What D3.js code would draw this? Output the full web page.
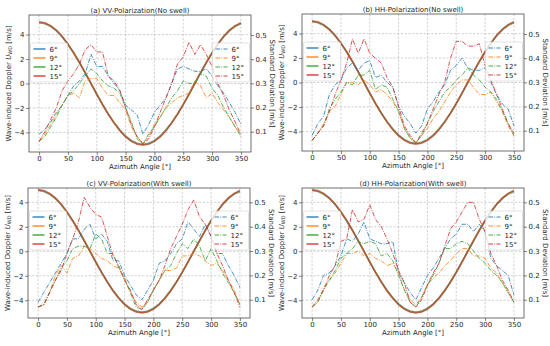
<!DOCTYPE html>
<html><head><meta charset="utf-8">
<script src="https://cdn.jsdelivr.net/npm/d3@7/dist/d3.min.js"></script>
<style>body{margin:0;background:#fff}svg{display:block;font-family:"DejaVu Sans",sans-serif}</style>
</head><body><svg id="c" width="550" height="346"></svg>
<script>
// ---------- data ----------
const azimuth = [0,10,20,30,40,50,60,70,80,90,100,110,120,130,140,150,160,170,180,190,200,210,220,230,240,250,260,270,280,290,300,310,320,330,340,350];
const incidence = ["6°","9°","12°","15°"];
const xTicks = [0,50,100,150,200,250,300,350];
const yTicks = [-4,-2,0,2,4];
const sTicks = [0.1,0.2,0.3,0.4,0.5];

// wave-induced Doppler (left axis)
const dop6  = [4.96,4.88,4.66,4.30,3.80,3.18,2.47,1.69,0.85,-0.01,-0.87,-1.70,-2.48,-3.18,-3.79,-4.29,-4.66,-4.88,-4.96,-4.88,-4.66,-4.29,-3.79,-3.18,-2.48,-1.70,-0.87,-0.01,0.85,1.69,2.47,3.18,3.80,4.30,4.66,4.88];
const dop9  = [4.99,4.91,4.69,4.32,3.82,3.20,2.49,1.70,0.86,0.00,-0.87,-1.71,-2.50,-3.21,-3.82,-4.32,-4.69,-4.91,-4.99,-4.91,-4.69,-4.32,-3.82,-3.21,-2.50,-1.71,-0.87,0.00,0.86,1.70,2.49,3.20,3.82,4.32,4.69,4.91];
const dop12 = [5.01,4.93,4.71,4.34,3.84,3.22,2.51,1.72,0.87,0.01,-0.87,-1.72,-2.51,-3.22,-3.84,-4.34,-4.71,-4.93,-5.01,-4.93,-4.71,-4.34,-3.84,-3.22,-2.51,-1.72,-0.87,0.01,0.87,1.72,2.51,3.22,3.84,4.34,4.71,4.93];
const dop15 = [5.04,4.96,4.73,4.36,3.86,3.24,2.52,1.73,0.88,0.01,-0.88,-1.73,-2.52,-3.24,-3.86,-4.36,-4.73,-4.96,-5.04,-4.96,-4.73,-4.36,-3.86,-3.24,-2.52,-1.73,-0.88,0.01,0.88,1.73,2.52,3.24,3.86,4.36,4.73,4.96];

// standard deviation (right axis)
const stdA6  = [0.09,0.11,0.14,0.18,0.21,0.25,0.29,0.31,0.34,0.42,0.37,0.37,0.33,0.30,0.27,0.21,0.19,0.17,0.09,0.13,0.18,0.21,0.24,0.30,0.36,0.37,0.36,0.35,0.35,0.36,0.33,0.29,0.26,0.22,0.18,0.13];
const stdA9  = [0.06,0.09,0.13,0.17,0.21,0.25,0.26,0.24,0.31,0.32,0.32,0.28,0.25,0.25,0.22,0.19,0.12,0.08,0.05,0.08,0.13,0.16,0.20,0.22,0.24,0.25,0.26,0.31,0.29,0.24,0.26,0.22,0.19,0.16,0.12,0.09];
const stdA12 = [0.06,0.08,0.12,0.16,0.21,0.25,0.27,0.30,0.33,0.36,0.34,0.31,0.29,0.28,0.26,0.20,0.14,0.07,0.05,0.09,0.12,0.16,0.20,0.24,0.27,0.31,0.30,0.30,0.34,0.33,0.28,0.25,0.20,0.16,0.12,0.08];
const stdA15 = [0.06,0.10,0.15,0.20,0.27,0.31,0.34,0.38,0.44,0.46,0.43,0.43,0.33,0.31,0.27,0.20,0.13,0.08,0.05,0.07,0.12,0.18,0.24,0.30,0.38,0.41,0.47,0.42,0.46,0.42,0.37,0.30,0.25,0.19,0.14,0.09];

const stdB6  = [0.08,0.13,0.16,0.25,0.29,0.31,0.36,0.38,0.35,0.38,0.39,0.32,0.33,0.30,0.28,0.20,0.16,0.13,0.09,0.12,0.19,0.22,0.26,0.29,0.35,0.37,0.40,0.36,0.35,0.35,0.36,0.30,0.25,0.21,0.19,0.12];
const stdB9  = [0.06,0.09,0.13,0.18,0.20,0.25,0.30,0.30,0.29,0.31,0.29,0.26,0.27,0.25,0.22,0.18,0.11,0.07,0.05,0.08,0.11,0.15,0.18,0.22,0.26,0.29,0.31,0.31,0.28,0.25,0.25,0.26,0.22,0.18,0.12,0.08];
const stdB12 = [0.06,0.09,0.12,0.19,0.23,0.26,0.30,0.29,0.33,0.33,0.35,0.27,0.29,0.28,0.23,0.18,0.11,0.07,0.05,0.08,0.13,0.18,0.22,0.26,0.28,0.31,0.33,0.36,0.33,0.31,0.28,0.26,0.23,0.18,0.13,0.08];
const stdB15 = [0.06,0.09,0.12,0.18,0.25,0.31,0.38,0.48,0.42,0.48,0.42,0.40,0.38,0.32,0.28,0.20,0.12,0.08,0.05,0.09,0.13,0.19,0.25,0.30,0.40,0.47,0.47,0.45,0.45,0.46,0.37,0.31,0.25,0.19,0.13,0.09];

const stdC6  = [0.09,0.13,0.17,0.21,0.25,0.29,0.35,0.35,0.39,0.41,0.35,0.37,0.34,0.26,0.26,0.20,0.16,0.12,0.10,0.14,0.18,0.25,0.26,0.29,0.33,0.35,0.42,0.39,0.36,0.41,0.36,0.29,0.29,0.24,0.20,0.15];
const stdC9  = [0.07,0.08,0.13,0.20,0.24,0.21,0.27,0.28,0.32,0.31,0.29,0.27,0.26,0.24,0.23,0.18,0.13,0.09,0.07,0.09,0.14,0.18,0.22,0.22,0.23,0.28,0.28,0.29,0.28,0.26,0.24,0.25,0.22,0.18,0.14,0.08];
const stdC12 = [0.07,0.08,0.13,0.18,0.23,0.26,0.31,0.32,0.32,0.31,0.37,0.35,0.29,0.29,0.23,0.19,0.13,0.07,0.06,0.09,0.14,0.18,0.22,0.24,0.29,0.33,0.31,0.35,0.32,0.26,0.31,0.26,0.21,0.17,0.13,0.08];
const stdC15 = [0.07,0.08,0.13,0.18,0.22,0.29,0.35,0.42,0.52,0.48,0.45,0.44,0.36,0.28,0.24,0.18,0.14,0.08,0.06,0.10,0.14,0.18,0.24,0.31,0.36,0.41,0.47,0.51,0.44,0.41,0.36,0.29,0.24,0.18,0.13,0.07];

const stdD6  = [0.10,0.14,0.20,0.21,0.24,0.28,0.35,0.34,0.37,0.42,0.35,0.34,0.33,0.33,0.34,0.21,0.17,0.13,0.10,0.15,0.20,0.23,0.27,0.31,0.35,0.37,0.41,0.41,0.38,0.41,0.38,0.27,0.24,0.22,0.20,0.12];
const stdD9  = [0.07,0.09,0.15,0.18,0.21,0.25,0.29,0.29,0.30,0.28,0.29,0.27,0.26,0.24,0.25,0.21,0.14,0.10,0.08,0.11,0.16,0.19,0.21,0.24,0.26,0.29,0.31,0.31,0.28,0.28,0.27,0.23,0.21,0.17,0.13,0.09];
const stdD12 = [0.07,0.09,0.14,0.18,0.22,0.27,0.29,0.31,0.34,0.33,0.34,0.33,0.28,0.29,0.26,0.20,0.14,0.09,0.07,0.11,0.16,0.20,0.25,0.31,0.31,0.33,0.34,0.33,0.30,0.27,0.25,0.22,0.20,0.17,0.13,0.09];
const stdD15 = [0.07,0.10,0.14,0.20,0.24,0.34,0.35,0.47,0.42,0.43,0.49,0.43,0.40,0.35,0.29,0.22,0.17,0.09,0.07,0.10,0.16,0.21,0.25,0.32,0.39,0.42,0.46,0.50,0.50,0.43,0.38,0.29,0.24,0.18,0.14,0.09];

// ---------- drawing ----------
const svg = d3.select("#c");
const colors = ["#1f77b4","#ff7f0e","#2ca02c","#d62728"];
const dops = [dop6,dop9,dop12,dop15];

const panels = [
  {title:"(a) VV-Polarization(No swell)", x0:29,  x1:251, y0:15,  y1:152, yDom:[-5.6,5.6], sDom:[0.016,0.583], leg:34, std:[stdA6,stdA9,stdA12,stdA15]},
  {title:"(b) HH-Polarization(No swell)", x0:302, x1:524, y0:14,  y1:151, yDom:[-5.6,5.6], sDom:[0.016,0.583], leg:34, std:[stdB6,stdB9,stdB12,stdB15]},
  {title:"(c) VV-Polarization(With swell)", x0:28, x1:250, y0:188, y1:318, yDom:[-5.45,5.17], sDom:[0.025,0.559], leg:29, std:[stdC6,stdC9,stdC12,stdC15]},
  {title:"(d) HH-Polarization(With swell)", x0:302, x1:524, y0:188, y1:318, yDom:[-5.45,5.17], sDom:[0.025,0.559], leg:29, std:[stdD6,stdD9,stdD12,stdD15]}
];

const FS = 7;
const textCol = "#262626";

panels.forEach(p => {
  const g = svg.append("g");
  const x = d3.scaleLinear().domain([-17.5, 367.5]).range([p.x0, p.x1]);
  const y = d3.scaleLinear().domain(p.yDom).range([p.y1, p.y0]);
  const s = d3.scaleLinear().domain(p.sDom).range([p.y1, p.y0]);

  // grid
  const grid = g.append("g").attr("stroke", "#b0b0b0").attr("stroke-width", 0.6).attr("stroke-dasharray", "2.2,1.6");
  xTicks.forEach(t => grid.append("line").attr("x1", x(t)).attr("x2", x(t)).attr("y1", p.y0).attr("y2", p.y1));
  yTicks.forEach(t => grid.append("line").attr("x1", p.x0).attr("x2", p.x1).attr("y1", y(t)).attr("y2", y(t)));

  const clipId = "clip" + p.x0 + "_" + p.y0;
  svg.append("clipPath").attr("id", clipId).append("rect")
    .attr("x", p.x0).attr("y", p.y0).attr("width", p.x1 - p.x0).attr("height", p.y1 - p.y0);
  const plot = g.append("g").attr("clip-path", `url(#${clipId})`);

  // Doppler lines (left axis)
  const lineY = d3.line().x((d, i) => x(azimuth[i])).y(d => y(d)).curve(d3.curveLinear);
  dops.forEach((arr, k) => {
    plot.append("path").attr("d", lineY(arr)).attr("fill", "none")
      .attr("stroke", colors[k]).attr("stroke-width", 1.6).attr("stroke-opacity", 0.55);
  });

  // Std lines (right axis)
  const lineS = d3.line().x((d, i) => x(azimuth[i])).y(d => s(d));
  p.std.forEach((arr, k) => {
    plot.append("path").attr("d", lineS(arr)).attr("fill", "none")
      .attr("stroke", colors[k]).attr("stroke-width", 0.9).attr("stroke-opacity", 0.9)
      .attr("stroke-dasharray", "4.5,1.3,0.9,1.3");
  });

  // axes
  const ax = g.append("g").attr("transform", `translate(0,${p.y1})`)
    .call(d3.axisBottom(x).tickValues(xTicks).tickSize(3).tickPadding(1.5).tickFormat(d3.format("d")));
  const ay = g.append("g").attr("transform", `translate(${p.x0},0)`)
    .call(d3.axisLeft(y).tickValues(yTicks).tickSize(3).tickPadding(1.5).tickFormat(d => d < 0 ? "\u2212" + Math.abs(d) : d));
  const as = g.append("g").attr("transform", `translate(${p.x1},0)`)
    .call(d3.axisRight(s).tickValues(sTicks).tickSize(3).tickPadding(1.5).tickFormat(d3.format(".1f")));
  [ax, ay, as].forEach(a => {
    a.select(".domain").remove();
    a.selectAll(".tick line").attr("stroke", "#333").attr("stroke-width", 0.6);
    a.selectAll(".tick text").attr("font-size", FS).attr("fill", textCol).attr("font-family", "DejaVu Sans");
  });

  // frame
  g.append("rect").attr("x", p.x0).attr("y", p.y0).attr("width", p.x1 - p.x0).attr("height", p.y1 - p.y0)
    .attr("fill", "none").attr("stroke", "#333").attr("stroke-width", 0.7);

  // title
  g.append("text").attr("x", (p.x0 + p.x1) / 2).attr("y", p.y0 - 2.5).attr("text-anchor", "middle")
    .attr("font-size", FS).attr("fill", textCol).text(p.title);

  // x label
  g.append("text").attr("x", (p.x0 + p.x1) / 2).attr("y", p.y1 + 17).attr("text-anchor", "middle")
    .attr("font-size", FS).attr("fill", textCol).text("Azimuth Angle [°]");

  // left y label
  const cy = (p.y0 + p.y1) / 2;
  const ly = g.append("text").attr("transform", `translate(${p.x0 - 18.5},${cy}) rotate(-90)`)
    .attr("text-anchor", "middle").attr("font-size", FS).attr("fill", textCol);
  ly.append("tspan").text("Wave-induced Doppler ");
  ly.append("tspan").attr("font-style", "italic").text("U");
  ly.append("tspan").attr("font-size", 5).attr("dy", 1.5).text("WD");
  ly.append("tspan").attr("dy", -1.5).text(" [m/s]");

  // right y label
  g.append("text").attr("transform", `translate(${p.x1 + 19},${cy}) rotate(90)`)
    .attr("text-anchor", "middle").attr("font-size", FS).attr("fill", textCol).text("Standard Deviation [m/s]");

  // legends
  const rowH = 9;
  function legend(bx, dash) {
    const top = p.y0 + p.leg - 6;
    g.append("rect").attr("x", bx).attr("y", top).attr("width", 37).attr("height", rowH * 3 + 12)
      .attr("rx", 1.5).attr("fill", "#fff").attr("fill-opacity", 0.8).attr("stroke", "#d0d0d0").attr("stroke-width", 0.6);
    incidence.forEach((lab, k) => {
      const yy = p.y0 + p.leg + k * rowH;
      g.append("line").attr("x1", bx + 3).attr("x2", bx + 15).attr("y1", yy).attr("y2", yy)
        .attr("stroke", colors[k]).attr("stroke-width", dash ? 0.9 : 1.3)
        .attr("stroke-dasharray", dash ? "4.5,1.3,0.9,1.3" : null);
      g.append("text").attr("x", bx + 19).attr("y", yy + 2.5).attr("font-size", FS).attr("fill", textCol).text(lab);
    });
  }
  legend(p.x0 + 1.5, false);
  legend(p.x1 - 38.5, true);
});
</script></body></html>
